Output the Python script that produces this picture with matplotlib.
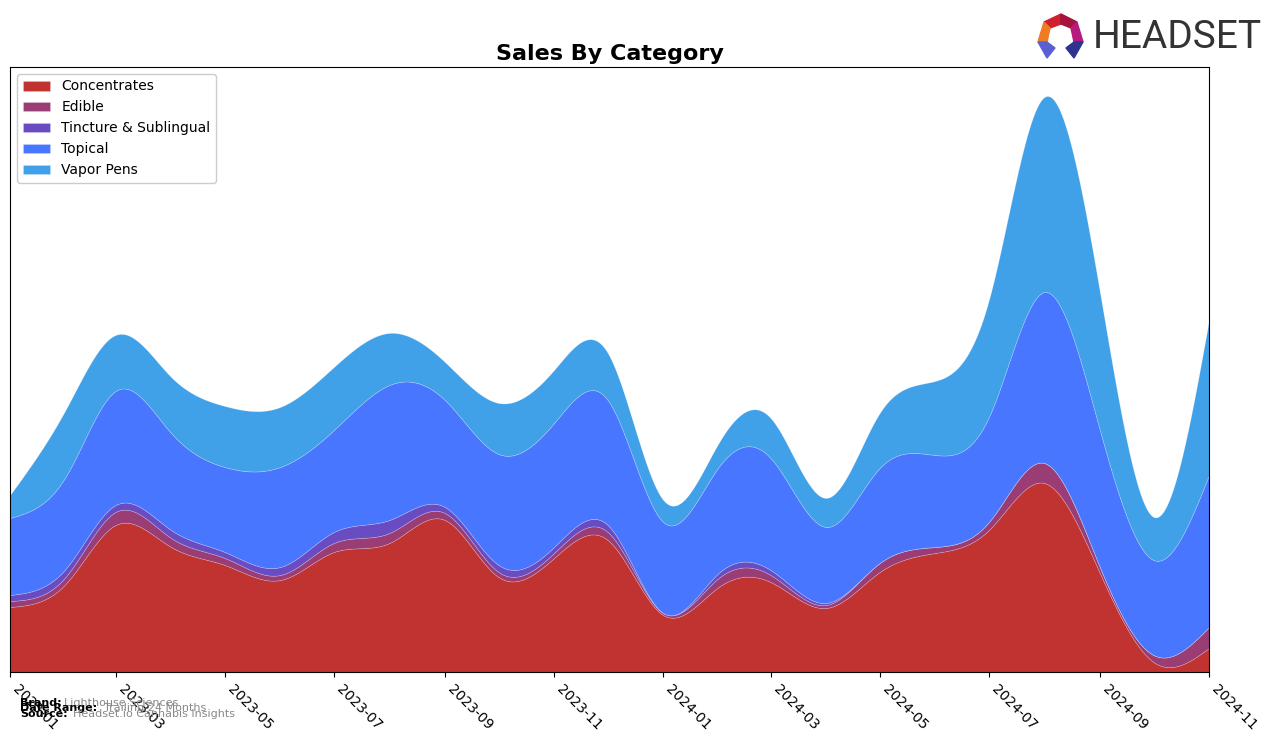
import matplotlib
matplotlib.use("Agg")
import matplotlib.pyplot as plt
import matplotlib.dates as mdates
from matplotlib.patches import Polygon
import numpy as np
import pandas as pd

# ── Data (monthly sales, arbitrary units) ─────────────────
months = pd.date_range("2023-01-01", "2024-11-01", freq="MS")

concentrates = [65, 88, 147, 125, 107, 92, 120, 129, 152, 95, 114, 132,
                57, 85, 90, 64, 100, 119, 142, 189, 99, 10, 24]
edible = [6, 7, 13, 9, 7, 5, 9, 10, 7, 5, 5, 8,
          2, 9, 7, 3, 9, 6, 8, 20, 6, 7, 21]
tincture = [6, 8, 7, 8, 6, 8, 11, 13, 6, 7, 6, 7,
            0, 5, 5, 2, 0, 0, 0, 0, 0, 0, 0]
topical = [77, 92, 114, 97, 85, 100, 102, 135, 107, 111, 124, 125,
           91, 106, 112, 76, 95, 92, 105, 171, 137, 95, 152]
vapor_pens = [23, 67, 56, 56, 61, 60, 63, 52, 38, 51, 53, 47,
              22, 24, 40, 29, 55, 74, 117, 195, 138, 43, 155]

labels = ["Concentrates", "Edible", "Tincture & Sublingual", "Topical", "Vapor Pens"]
colors = ["#C03331", "#993D74", "#6A4CC2", "#4876FF", "#40A0E8"]


def natural_spline(x, y, xs):
    # plain natural cubic spline, only used to smooth the drawn areas
    x = np.asarray(x, float)
    y = np.asarray(y, float)
    n = len(x)
    h = np.diff(x)
    A = np.zeros((n, n))
    b = np.zeros(n)
    A[0, 0] = A[-1, -1] = 1
    for i in range(1, n - 1):
        A[i, i - 1] = h[i - 1]
        A[i, i] = 2 * (h[i - 1] + h[i])
        A[i, i + 1] = h[i]
        b[i] = 3 * ((y[i + 1] - y[i]) / h[i] - (y[i] - y[i - 1]) / h[i - 1])
    c = np.linalg.solve(A, b)
    idx = np.clip(np.searchsorted(x, xs) - 1, 0, n - 2)
    dx = xs - x[idx]
    bb = (y[idx + 1] - y[idx]) / h[idx] - h[idx] * (2 * c[idx] + c[idx + 1]) / 3
    dd = (c[idx + 1] - c[idx]) / (3 * h[idx])
    return y[idx] + bb * dx + c[idx] * dx ** 2 + dd * dx ** 3


xnum = mdates.date2num(months)
xs = np.linspace(xnum[0], xnum[-1], 600)
series = [concentrates, edible, tincture, topical, vapor_pens]
smooth = [np.clip(natural_spline(xnum, s, xs), 0, None) for s in series]

# ── Figure ────────────────────────────────────────────────
fig = plt.figure(figsize=(12.76, 7.43), dpi=100)
ax = fig.add_axes([10 / 1276, 1 - 672 / 743, 1199 / 1276, 605 / 743])

ax.stackplot(xs, *smooth, labels=labels, colors=colors,
             edgecolor=(1, 1, 1, 0.25), linewidth=0.5)

ax.set_xlim(xnum[0], xnum[-1])
ax.set_ylim(0, 605)
ax.set_yticks([])
ax.xaxis.set_major_locator(mdates.MonthLocator(bymonth=[1, 3, 5, 7, 9, 11]))
ax.xaxis.set_major_formatter(mdates.DateFormatter("%Y-%m"))
plt.setp(ax.get_xticklabels(), rotation=-45, ha="left", fontsize=10)

ax.set_title("Sales By Category", fontsize=16, fontweight="bold", pad=5)
ax.legend(loc="upper left", fontsize=10, framealpha=1)

# footnotes
fig.text(20 / 1276, 1 - 703 / 743, "Brand:", fontsize=8, fontweight="bold", va="center")
fig.text(64 / 1276, 1 - 703 / 743, "Lighthouse Sciences", fontsize=8, color="#888888", va="center")
fig.text(20 / 1276, 1 - 708 / 743, "Date Range:", fontsize=8, fontweight="bold", va="center")
fig.text(104 / 1276, 1 - 708 / 743, "Trailing 24 Months", fontsize=8, color="#888888", va="center")
fig.text(20 / 1276, 1 - 714 / 743, "Source:", fontsize=8, fontweight="bold", va="center")
fig.text(73 / 1276, 1 - 714 / 743, "Headset.io Cannabis Insights", fontsize=8, color="#888888", va="center")

# logo
def fig_poly(pts, color):
    p = [(x / 1276, 1 - y / 743) for x, y in pts]
    fig.patches.append(Polygon(p, closed=True, color=color, transform=fig.transFigure))

fig_poly([(1044, 22), (1061, 14), (1061, 24), (1050, 28)], "#D0202E")
fig_poly([(1061, 14), (1077, 22), (1071, 28), (1061, 24)], "#A3133C")
fig_poly([(1044, 22), (1050, 28), (1047, 42), (1038, 42)], "#F07B22")
fig_poly([(1077, 22), (1083, 42), (1074, 42), (1071, 28)], "#B8197E")
fig_poly([(1038, 42), (1047, 42), (1055, 48), (1047, 58)], "#5B5FD6")
fig_poly([(1083, 42), (1074, 42), (1066, 48), (1074, 58)], "#2E3390")
fig.text(1093 / 1276, 1 - 38 / 743, "HEADSET", fontsize=28, color="#333333", va="center",
         fontfamily=["Liberation Sans Narrow", "Roboto"])

fig.savefig("out.png", dpi=100)
